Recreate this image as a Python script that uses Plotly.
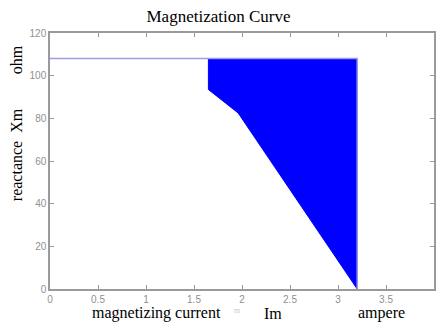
import plotly.graph_objects as go

# Data
line_im = [0, 1.65, 3.2, 3.2]
line_xm = [108, 108, 108, 0]
fill_im = [1.65, 1.65, 1.96, 3.2, 3.2, 1.65]
fill_xm = [108, 93.5, 82.5, 0, 108, 108]
x_ticks = [0, 0.5, 1, 1.5, 2, 2.5, 3, 3.5, 4]
x_tick_text = ["0", "0.5", "1", "1.5", "2", "2.5", "3", "3.5", "4"]
y_ticks = [0, 20, 40, 60, 80, 100, 120]

fig = go.Figure()
fig.add_trace(go.Scatter(x=fill_im, y=fill_xm, mode="lines", fill="toself",
                         fillcolor="#0000ff", line=dict(color="#0000ff", width=1),
                         hoverinfo="skip", showlegend=False))
fig.add_trace(go.Scatter(x=line_im, y=line_xm, mode="lines",
                         line=dict(color="#9c9ce8", width=1.5), showlegend=False))

serif = "Liberation Serif, Times New Roman, serif"
axis_common = dict(showline=True, linecolor="#9a9a9a", linewidth=1.5, mirror="ticks",
                   ticks="inside", ticklen=4, tickcolor="#9a9a9a", showgrid=False,
                   zeroline=False, tickfont=dict(family="Liberation Sans, Arial", size=10, color="#909090"))
fig.update_xaxes(range=[0, 4], tickvals=x_ticks, ticktext=x_tick_text, **axis_common)
fig.update_yaxes(range=[0, 120], tickvals=y_ticks, **axis_common)

L, T, W, H = 50, 33, 386, 256


def px(x):
    return (x - L) / W


def py(y):
    return (T + H - y) / H


def ann(text, x, y, angle=0, size=16, color="black"):
    return dict(text=text, x=px(x), y=py(y), xref="paper", yref="paper", textangle=angle,
                showarrow=False, xanchor="center", yanchor="middle",
                font=dict(family=serif, size=size, color=color))


fig.update_layout(
    width=437, height=327,
    margin=dict(l=50, r=1, t=33, b=38),
    paper_bgcolor="white", plot_bgcolor="white",
    title=dict(text="Magnetization Curve", x=0.5, xanchor="center", y=1 - 16 / 327, yanchor="middle",
               font=dict(family=serif, size=17, color="black")),
    annotations=[
        ann("magnetizing current", 157, 313),
        ann("m", 238, 310, size=8, color="#c8c8c8"),
        ann("Im", 274, 313),
        ann("ampere", 383, 313),
        ann("reactance  Xm", 16, 155, -90),
        ann("ohm", 16, 60, -90),
    ],
)

fig.write_html("out.html", post_script="document.body.style.margin='0';",
               config={"displayModeBar": False})
